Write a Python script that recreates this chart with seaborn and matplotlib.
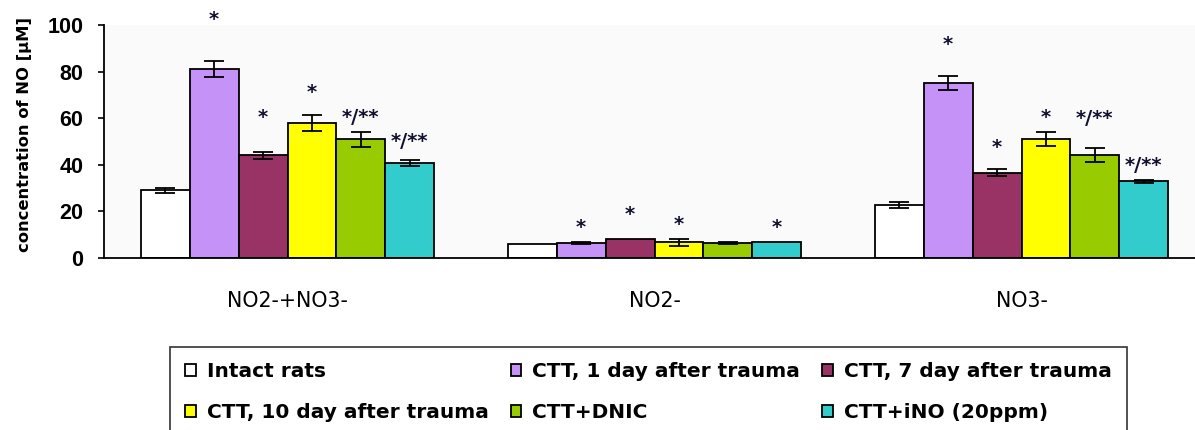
import matplotlib
matplotlib.use('Agg')
import matplotlib.pyplot as plt
import seaborn as sns
import numpy as np
import pandas as pd

# Data
categories = ['NO2-+NO3-', 'NO2-', 'NO3-']
groups = ['Intact rats', 'CTT, 1 day after trauma', 'CTT, 7 day after trauma',
          'CTT, 10 day after trauma', 'CTT+DNIC', 'CTT+iNO (20ppm)']
colors = ['#ffffff', '#c592f8', '#993366', '#ffff00', '#99cc00', '#33cccc']

# values[group][category]
values = [
    [29.0, 6.0, 22.7],
    [81.2, 6.6, 75.2],
    [44.0, 8.2, 36.5],
    [57.9, 6.7, 51.0],
    [51.0, 6.5, 44.0],
    [40.7, 6.7, 32.9],
]
errors = [
    [1.2, 0.0, 1.2],
    [3.4, 0.4, 3.0],
    [1.6, 0.0, 1.5],
    [3.3, 1.5, 3.0],
    [3.2, 0.3, 3.0],
    [1.3, 0.0, 0.5],
]
# significance marks and the height they are written at
marks = [
    ['', '', ''],
    ['*', '*', '*'],
    ['*', '*', '*'],
    ['*', '*', '*'],
    ['*/**', '', '*/**'],
    ['*/**', '*', '*/**'],
]
markY = [
    [0, 0, 0],
    [102.5, 13.0, 91.7],
    [60.5, 18.7, 47.4],
    [71.0, 14.5, 60.5],
    [60.5, 0, 59.8],
    [50.0, 13.0, 39.7],
]

rows = []
for g, grp in enumerate(groups):
    for c, cat in enumerate(categories):
        rows.append({'category': cat, 'group': grp, 'value': values[g][c]})
df = pd.DataFrame(rows)

sns.set_style('white')
plt.rcParams['font.family'] = ['DejaVu Sans']
for k in ['text.color', 'axes.labelcolor', 'xtick.color', 'ytick.color']:
    plt.rcParams[k] = 'black'

W, H = 1195, 430
fig = plt.figure(figsize=(W / 100, H / 100), dpi=100)
fig.patch.set_facecolor('white')
ax = fig.add_axes([104 / W, (H - 258) / H, (W - 104) / W, 233 / H])
ax.set_facecolor('#fafafa')

sns.barplot(data=df, x='category', y='value', hue='group', order=categories,
            hue_order=groups, palette=colors, edgecolor='black', linewidth=1.3,
            errorbar=None, width=0.8, ax=ax, saturation=1)

barConts = list(ax.containers)
for g, cont in enumerate(barConts):
    for c, bar in enumerate(cont):
        xc = bar.get_x() + bar.get_width() / 2
        if errors[g][c] > 0:
            ax.errorbar(xc, values[g][c], yerr=errors[g][c], color='black',
                        capsize=7, elinewidth=1.3, capthick=1.3, fmt='none',
                        clip_on=False, zorder=5)
        if marks[g][c]:
            ax.text(xc, markY[g][c], marks[g][c], ha='center', va='center',
                    fontsize=14, fontweight='bold', color='#101030',
                    clip_on=False)

ax.set_ylim(0, 100)
ax.set_xlim(-0.5, -0.5 + (W - 104) / 367)
ax.set_yticks([0, 20, 40, 60, 80, 100])
ax.tick_params(axis='y', length=4.3, width=1.2, direction='out',
               left=True, pad=10.5)
for lab in ax.get_yticklabels():
    lab.set_fontfamily(['Liberation Sans', 'DejaVu Sans'])
    lab.set_fontweight('bold')
    lab.set_fontsize(15.5)
ax.set_xticks(range(len(categories)))
ax.set_xticklabels(categories, fontsize=14.8)
ax.tick_params(axis='x', length=0, pad=24)
ax.set_xticks([-0.5, 0.5, 1.5], minor=True)
ax.tick_params(axis='x', which='minor', length=5, width=1.2, direction='out')
ax.set_xlabel('')
ax.set_ylabel('concentration of NO [\u00b5M]', fontsize=11.8, fontweight='bold')
ax.yaxis.set_label_coords(-0.066, 0.53)

for s in ['top', 'right']:
    ax.spines[s].set_visible(False)
for s in ['left', 'bottom']:
    ax.spines[s].set_color('black')
    ax.spines[s].set_linewidth(1.3)

handles, labels = ax.get_legend_handles_labels()
if ax.get_legend() is not None:
    ax.get_legend().remove()
order = [0, 3, 1, 4, 2, 5]
leg = fig.legend([handles[i] for i in order], [labels[i] for i in order],
                 ncol=3, loc='upper left', bbox_to_anchor=(170 / W, 1 - 347 / H),
                 borderaxespad=0, frameon=True, fancybox=False, edgecolor='black',
                 prop={'family': ['DejaVu Sans'], 'weight': 'bold', 'size': 14.5},
                 handlelength=0.52, handleheight=0.52, handletextpad=0.55,
                 columnspacing=1.1, borderpad=0.75, labelspacing=1.08)
leg.get_frame().set_linewidth(1.2)

fig.savefig('out.png', dpi=100)
